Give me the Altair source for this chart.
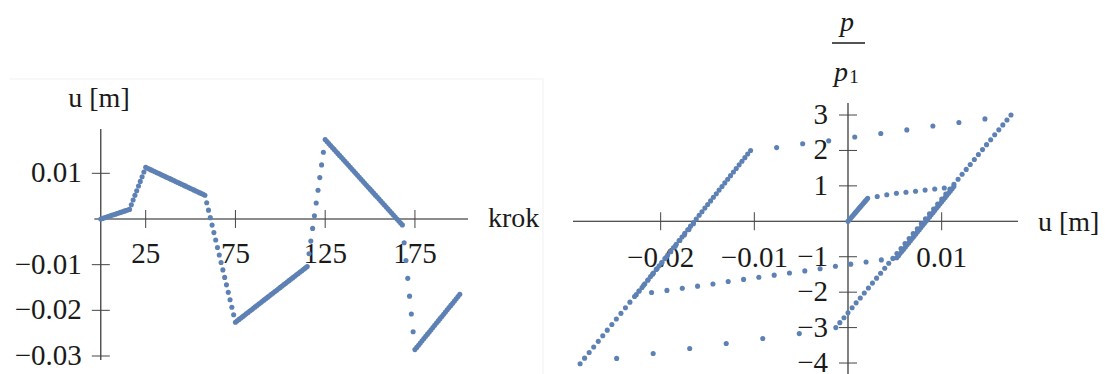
import altair as alt
import pandas as pd

# Displacement u [m] and load ratio p/p1 per load step, grouped by load phase
u_elastic1 = [0.0, 0.00013, 0.00026, 0.00039, 0.00053, 0.00066, 0.00079, 0.00092, 0.00105,
              0.00118, 0.00131, 0.00144, 0.00158, 0.00171, 0.00184, 0.00197, 0.0021]
p_elastic1 = [0.0, 0.041, 0.081, 0.122, 0.163, 0.203, 0.244, 0.284, 0.325,
              0.366, 0.406, 0.447, 0.488, 0.528, 0.569, 0.609, 0.65]

u_plastic1 = [0.00312, 0.00414, 0.00517, 0.00619, 0.00721, 0.00823, 0.00926, 0.01028, 0.0113]
p_plastic1 = [0.70, 0.75, 0.79, 0.82, 0.85, 0.88, 0.91, 0.94, 0.98]

u_unload1 = [0.01112, 0.01093, 0.01075, 0.01056, 0.01038, 0.01019, 0.01001, 0.00983, 0.00964,
             0.00946, 0.00927, 0.00909, 0.0089, 0.00872, 0.00853, 0.00835, 0.00816, 0.00798,
             0.00779, 0.00761, 0.00742, 0.00724, 0.00705, 0.00687, 0.00668, 0.0065, 0.00631,
             0.00613, 0.00594, 0.00576, 0.00557, 0.00539, 0.0052]
p_unload1 = [0.919, 0.858, 0.797, 0.736, 0.675, 0.615, 0.554, 0.494, 0.432,
             0.372, 0.31, 0.25, 0.189, 0.128, 0.067, 0.006, -0.055, -0.115,
             -0.176, -0.237, -0.298, -0.359, -0.42, -0.481, -0.542, -0.603, -0.664,
             -0.725, -0.786, -0.847, -0.908, -0.969, -1.03]

u_plastic2 = [0.00356, 0.00193, 0.00029, -0.00134, -0.00298, -0.00461, -0.00625, -0.00788,
              -0.00952, -0.01115, -0.01279, -0.01442, -0.01606, -0.01769, -0.01933, -0.02097, -0.0226]
p_plastic2 = [-1.09, -1.15, -1.21, -1.27, -1.34, -1.40, -1.46, -1.52,
              -1.58, -1.64, -1.70, -1.77, -1.83, -1.89, -1.95, -2.01, -2.07]

u_reload1 = [-0.0223, -0.02199, -0.02169, -0.02138, -0.02108, -0.02077, -0.02047, -0.02016,
             -0.01986, -0.01955, -0.01925, -0.01894, -0.01864, -0.01833, -0.01803, -0.01772,
             -0.01742, -0.01711, -0.01681, -0.0165, -0.0162, -0.01589, -0.01559, -0.01528,
             -0.01498, -0.01467, -0.01437, -0.01406, -0.01376, -0.01345, -0.01315, -0.01284,
             -0.01254, -0.01223, -0.01193, -0.01162, -0.01132, -0.01101, -0.01071, -0.0104]
p_reload1 = [-1.968, -1.867, -1.765, -1.663, -1.561, -1.46, -1.358, -1.256,
             -1.154, -1.053, -0.951, -0.849, -0.747, -0.646, -0.544, -0.442,
             -0.34, -0.239, -0.137, -0.035, 0.067, 0.169, 0.271, 0.372,
             0.474, 0.576, 0.678, 0.779, 0.881, 0.983, 1.084, 1.186,
             1.288, 1.39, 1.491, 1.593, 1.695, 1.797, 1.898, 2.0]

u_plastic3 = [-0.00762, -0.00484, -0.00206, 0.00072, 0.0035, 0.00628, 0.00906, 0.01184, 0.01462, 0.0174]
p_plastic3 = [2.08, 2.19, 2.27, 2.38, 2.48, 2.58, 2.69, 2.79, 2.89, 3.0]

u_unload2 = [0.01697, 0.01653, 0.0161, 0.01566, 0.01523, 0.01479, 0.01436, 0.01392, 0.01349,
             0.01305, 0.01262, 0.01218, 0.01175, 0.01131, 0.01088, 0.01044, 0.01001, 0.00957,
             0.00914, 0.0087, 0.00827, 0.00783, 0.0074, 0.00696, 0.00653, 0.00609, 0.00566,
             0.00522, 0.00479, 0.00435, 0.00392, 0.00348, 0.00305, 0.00261, 0.00218, 0.00174,
             0.00131, 0.00087, 0.00044, 0.0, -0.00043, -0.00087, -0.0013]
p_unload2 = [2.86, 2.721, 2.581, 2.442, 2.302, 2.163, 2.023, 1.884, 1.744,
             1.605, 1.465, 1.326, 1.186, 1.047, 0.907, 0.767, 0.628, 0.488,
             0.349, 0.209, 0.07, -0.07, -0.209, -0.349, -0.488, -0.628, -0.767,
             -0.907, -1.047, -1.186, -1.326, -1.465, -1.605, -1.744, -1.884, -2.023,
             -2.163, -2.302, -2.442, -2.581, -2.721, -2.86, -3.0]

u_plastic4 = [-0.0052, -0.0091, -0.013, -0.0169, -0.0208, -0.0247, -0.0286]
p_plastic4 = [-3.17, -3.31, -3.45, -3.59, -3.73, -3.87, -4.02]

u_reload2 = [-0.02812, -0.02763, -0.02715, -0.02666, -0.02618, -0.0257, -0.02521, -0.02473,
             -0.02424, -0.02376, -0.02328, -0.02279, -0.02231, -0.02182, -0.02134, -0.02086,
             -0.02037, -0.01989, -0.0194, -0.01892, -0.01844, -0.01795, -0.01747, -0.01698, -0.0165]
p_reload2 = [-3.862, -3.704, -3.546, -3.388, -3.23, -3.072, -2.914, -2.756,
             -2.598, -2.44, -2.282, -2.124, -1.966, -1.808, -1.65, -1.492,
             -1.334, -1.176, -1.018, -0.86, -0.702, -0.544, -0.386, -0.228, -0.07]

# Axis ticks and their labels
krok_ticks = [25, 75, 125, 175]
krok_labels = ["25", "75", "125", "175"]
u_ticks_left = [0.01, -0.01, -0.02, -0.03]
u_labels_left = ["0.01", "−0.01", "−0.02", "−0.03"]
u_ticks_right = [-0.02, -0.01, 0.01]
u_labels_right = ["−0.02", "−0.01", "0.01"]
p_ticks = [3, 2, 1, -1, -2, -3, -4]
p_labels = ["3", "2", "1", "−1", "−2", "−3", "−4"]

u_all = (u_elastic1 + u_plastic1 + u_unload1 + u_plastic2 + u_reload1
         + u_plastic3 + u_unload2 + u_plastic4 + u_reload2)
p_all = (p_elastic1 + p_plastic1 + p_unload1 + p_plastic2 + p_reload1
         + p_plastic3 + p_unload2 + p_plastic4 + p_reload2)
points = pd.DataFrame({"krok": list(range(len(u_all))), "u": u_all, "p": p_all})

BLUE = "#5E81B5"
INK = "#1a1a1a"
TICK = "#444444"
FONT = "Liberation Serif"
FS = 28        # axis titles
FS_TICK = 29   # tick labels
DOT = 26
H = 374


def enc(field, channel, scale):
    cls = {"x": alt.X, "y": alt.Y, "x2": alt.X2, "y2": alt.Y2}[channel]
    if channel in ("x2", "y2"):
        return cls(field)
    return cls(field, type="quantitative", scale=scale, axis=None)


def axes_layers(xs, ys, x_span, y_span, xt, xl, yt, yl, x_dy, y_dx):
    lines = pd.DataFrame({
        "x": [x_span[0], 0.0], "x2": [x_span[1], 0.0],
        "y": [0.0, y_span[0]], "y2": [0.0, y_span[1]],
    })
    axis_lines = alt.Chart(lines).mark_rule(color=INK, strokeWidth=1.1).encode(
        x=enc("x", "x", xs), x2=enc("x2", "x2", xs),
        y=enc("y", "y", ys), y2=enc("y2", "y2", ys),
    )
    xtick_df = pd.DataFrame({"v": xt, "zero": [0.0] * len(xt), "label": xl})
    ytick_df = pd.DataFrame({"v": yt, "zero": [0.0] * len(yt), "label": yl})
    xticks = alt.Chart(xtick_df).mark_tick(
        orient="vertical", size=18, thickness=1, color=TICK, opacity=1
    ).encode(x=enc("v", "x", xs), y=enc("zero", "y", ys))
    yticks = alt.Chart(ytick_df).mark_tick(
        orient="horizontal", size=18, thickness=1, color=TICK, opacity=1
    ).encode(x=enc("zero", "x", xs), y=enc("v", "y", ys))
    xlabels = alt.Chart(xtick_df).mark_text(
        align="center", baseline="middle", dy=x_dy, font=FONT, fontSize=FS_TICK, color=INK
    ).encode(x=enc("v", "x", xs), y=enc("zero", "y", ys), text="label:N")
    ylabels = alt.Chart(ytick_df).mark_text(
        align="right", baseline="middle", dx=y_dx, font=FONT, fontSize=FS_TICK, color=INK
    ).encode(x=enc("zero", "x", xs), y=enc("v", "y", ys), text="label:N")
    return [axis_lines, xticks, yticks, xlabels, ylabels]


def title_text(text, x, y, align="center", size=FS, italic=False, baseline="middle"):
    return alt.Chart(pd.DataFrame({"t": [text]})).mark_text(
        align=align, baseline=baseline, font=FONT, fontSize=size, color=INK,
        fontStyle="italic" if italic else "normal",
    ).encode(x=alt.value(x), y=alt.value(y), text="t:N")


# Left panel: u against load step
W1 = 560
xs1 = alt.Scale(domain=[-56.16, 255.82], nice=False, zero=False)
ys1 = alt.Scale(domain=[-0.03394, 0.047943], nice=False, zero=False)

dots1 = alt.Chart(points).mark_circle(size=DOT, color=BLUE, opacity=1).encode(
    x=enc("krok", "x", xs1), y=enc("u", "y", ys1)
)
# faint frame around the left figure
frame = alt.Chart(pd.DataFrame({"x": [10, 543], "x2": [543, 543], "y": [79, 79], "y2": [79, 374]})).mark_rule(
    color="#f1f1f1", strokeWidth=1
).encode(x=alt.X("x:Q", scale=None, axis=None), x2="x2", y=alt.Y("y:Q", scale=None, axis=None), y2="y2")

left = alt.layer(
    frame,
    *axes_layers(xs1, ys1, (-3.6, 204.6), (0.0197, -0.0309),
                 krok_ticks, krok_labels, u_ticks_left, u_labels_left, 35, -19),
    dots1,
    title_text("u [m]", 99, 99),
    title_text("krok", 488, 219, align="left"),
).resolve_scale(x="independent", y="independent").properties(width=W1, height=H)

# Right panel: p/p1 against u
W2 = 545
xs2 = alt.Scale(domain=[-0.030746, 0.027437], nice=False, zero=False)
ys2 = alt.Scale(domain=[-4.3099, 6.2461], nice=False, zero=False)

dots2 = alt.Chart(points).mark_circle(size=DOT, color=BLUE, opacity=1).encode(
    x=enc("u", "x", xs2), y=enc("p", "y", ys2)
)
frac_bar = alt.Chart(pd.DataFrame({"t": [0]})).mark_rule(color=INK, strokeWidth=1.3).encode(
    x=alt.value(272), x2=alt.value(305), y=alt.value(43)
)
right = alt.layer(
    *axes_layers(xs2, ys2, (-0.02936, 0.01815), (3.34, -4.31),
                 u_ticks_right, u_labels_right, p_ticks, p_labels, 37, -20),
    dots2,
    title_text("u [m]", 478, 223, align="left"),
    title_text("p", 287, 31, italic=True, baseline="alphabetic"),
    frac_bar,
    title_text("p", 281, 81, italic=True, baseline="alphabetic"),
    title_text("1", 294, 83, size=19, baseline="alphabetic"),
).properties(width=W2, height=H)

chart = alt.hconcat(left, right, spacing=0, bounds="flush", padding=0).configure_view(
    strokeWidth=0
).properties(background="white")

chart.save("out.html", embed_options={"renderer": "svg", "actions": False})
